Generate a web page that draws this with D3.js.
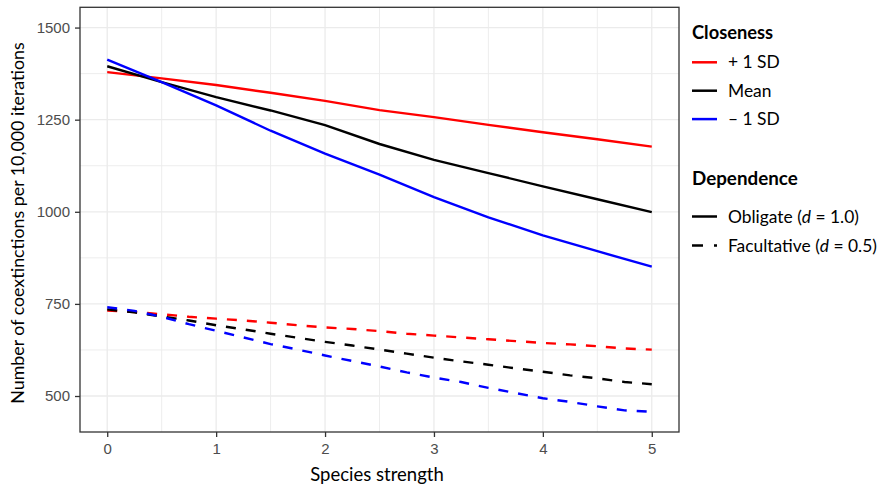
<!DOCTYPE html>
<html>
<head>
<meta charset="utf-8">
<script src="https://cdn.jsdelivr.net/npm/d3@7"></script>
<style>
  body { margin: 0; background: #fff; }
  svg { display: block; }
</style>
</head>
<body>
<svg id="chart" width="891" height="490"></svg>
<script>
// Species strength values at which each series is sampled
const obligateStrength = [0, 0.5, 1, 1.5, 2, 2.5, 3, 3.5, 4, 4.5, 5];
const facultativeStrength = [0, 0.25, 0.5, 0.75, 1, 1.25, 1.5, 1.75, 2, 2.25, 2.5,
                             2.75, 3, 3.25, 3.5, 3.75, 4, 4.25, 4.5, 4.75, 5];

// Obligate dependence (d = 1.0): coextinctions per 10,000 iterations
const obligatePlusSD  = [1379, 1362, 1344, 1323, 1301, 1276, 1257, 1236, 1216, 1197, 1177];
const obligateMean    = [1395, 1352, 1311, 1275, 1235, 1184, 1141, 1105, 1069, 1034, 999];
const obligateMinusSD = [1413, 1352, 1289, 1220, 1158, 1101, 1040, 985, 936, 893, 851];

// Facultative dependence (d = 0.5)
const facultativePlusSD  = [732, 728, 722, 715, 710, 705, 699, 692, 686, 682, 676,
                            669, 664, 659, 654, 649, 644, 640, 635, 629, 626];
const facultativeMean    = [735, 727, 716, 705, 692, 681, 669, 658, 647, 637, 626,
                            615, 604, 594, 585, 575, 566, 556, 548, 538, 532];
const facultativeMinusSD = [741, 731, 715, 695, 677, 659, 641, 626, 610, 595, 580,
                            564, 550, 538, 522, 508, 494, 484, 472, 461, 457];

// Axis ticks
const xTicks = [0, 1, 2, 3, 4, 5];
const yTicks = [500, 750, 1000, 1250, 1500];

// Legend entries
const closenessLabels = ["+ 1 SD", "Mean", "\u2013 1 SD"];
const closenessColors = ["#ff0000", "#000000", "#0000ff"];
const dependenceLabels = [["Obligate (", "d", " = 1.0)"], ["Facultative (", "d", " = 0.5)"]];
const dependenceDash = [null, "11,11"];

const svg = d3.select("#chart");
const panel = { left: 80, right: 679, top: 7.3, bottom: 432 };

const x = d3.scaleLinear().domain([-0.25, 5.25]).range([panel.left, panel.right]);
const y = d3.scaleLinear().domain([402.3, 1555]).range([panel.bottom, panel.top]);

const titleFont = "Lato, 'Open Sans', sans-serif";
const tickFont = "'Liberation Sans', Arial, sans-serif";

// Panel background and grid
svg.append("rect")
  .attr("x", panel.left).attr("y", panel.top)
  .attr("width", panel.right - panel.left).attr("height", panel.bottom - panel.top)
  .attr("fill", "#fff");

const grid = svg.append("g").attr("stroke", "#ebebeb").attr("fill", "none");
const xGrid = d3.range(0, 5.01, 0.5);
const yGrid = d3.range(500, 1500.1, 125);
grid.selectAll("line.vx").data(xGrid).join("line")
  .attr("x1", d => x(d)).attr("x2", d => x(d))
  .attr("y1", panel.top).attr("y2", panel.bottom)
  .attr("stroke-width", d => Number.isInteger(d) ? 1.3 : 0.9);
grid.selectAll("line.hy").data(yGrid).join("line")
  .attr("y1", d => y(d)).attr("y2", d => y(d))
  .attr("x1", panel.left).attr("x2", panel.right)
  .attr("stroke-width", d => d % 250 === 0 ? 1.3 : 0.9);

// Series lines
const series = [
  { xs: obligateStrength, ys: obligatePlusSD, color: closenessColors[0], dash: null },
  { xs: obligateStrength, ys: obligateMean, color: closenessColors[1], dash: null },
  { xs: obligateStrength, ys: obligateMinusSD, color: closenessColors[2], dash: null },
  { xs: facultativeStrength, ys: facultativePlusSD, color: closenessColors[0], dash: "10,10" },
  { xs: facultativeStrength, ys: facultativeMean, color: closenessColors[1], dash: "10,10" },
  { xs: facultativeStrength, ys: facultativeMinusSD, color: closenessColors[2], dash: "10,10" }
];
const line = d3.line().x(d => x(d[0])).y(d => y(d[1]));
svg.append("g").selectAll("path").data(series).join("path")
  .attr("d", s => line(s.xs.map((v, i) => [v, s.ys[i]])))
  .attr("fill", "none")
  .attr("stroke", s => s.color)
  .attr("stroke-width", 2.4)
  .attr("stroke-dasharray", s => s.dash);

// Panel border
svg.append("rect")
  .attr("x", panel.left).attr("y", panel.top)
  .attr("width", panel.right - panel.left).attr("height", panel.bottom - panel.top)
  .attr("fill", "none").attr("stroke", "#333").attr("stroke-width", 1.3);

// Axes
const xAxis = svg.append("g")
  .attr("transform", `translate(0,${panel.bottom})`)
  .call(d3.axisBottom(x).tickValues(xTicks).tickFormat(d3.format("d")).tickSize(5).tickPadding(6));
const yAxis = svg.append("g")
  .attr("transform", `translate(${panel.left},0)`)
  .call(d3.axisLeft(y).tickValues(yTicks).tickFormat(d3.format("d")).tickSize(5).tickPadding(5));
[xAxis, yAxis].forEach(a => {
  a.select(".domain").remove();
  a.selectAll(".tick line").attr("stroke", "#333").attr("stroke-width", 1.3);
  a.selectAll(".tick text")
    .attr("fill", "#4d4d4d")
    .style("font-family", tickFont)
    .style("font-size", "15px");
});

// Axis titles
svg.append("text")
  .attr("x", 377).attr("y", 481)
  .attr("text-anchor", "middle")
  .style("font-family", titleFont).style("font-size", "18.5px")
  .text("Species strength");
svg.append("text")
  .attr("transform", "translate(24,223) rotate(-90)")
  .attr("text-anchor", "middle")
  .style("font-family", titleFont).style("font-size", "17.8px")
  .text("Number of coextinctions per 10,000 iterations");

// Legend: closeness
const legend = svg.append("g").style("font-family", titleFont);
legend.append("text")
  .attr("x", 692).attr("y", 38.5)
  .style("font-size", "18.3px").style("font-weight", "bold")
  .text("Closeness");
const closeRows = legend.selectAll("g.close").data(closenessLabels).join("g")
  .attr("transform", (d, i) => `translate(0,${62.3 + i * 28.4})`);
closeRows.append("line")
  .attr("x1", 692).attr("x2", 717)
  .attr("stroke", (d, i) => closenessColors[i]).attr("stroke-width", 2.5);
closeRows.append("text")
  .attr("x", 728).attr("y", 6)
  .style("font-size", "17.4px")
  .text(d => d);

// Legend: dependence
legend.append("text")
  .attr("x", 692).attr("y", 185)
  .style("font-size", "18.8px").style("font-weight", "bold")
  .text("Dependence");
const depRows = legend.selectAll("g.dep").data(dependenceLabels).join("g")
  .attr("transform", (d, i) => `translate(0,${216.5 + i * 29})`);
depRows.append("line")
  .attr("x1", 692).attr("x2", 717)
  .attr("stroke", "#000").attr("stroke-width", 2.5)
  .attr("stroke-dasharray", (d, i) => dependenceDash[i]);
const depText = depRows.append("text")
  .attr("x", 728).attr("y", 6)
  .style("font-size", "17.4px");
depText.append("tspan").text(d => d[0]);
depText.append("tspan").style("font-style", "italic").text(d => d[1]);
depText.append("tspan").text(d => d[2]);
</script>
</body>
</html>
